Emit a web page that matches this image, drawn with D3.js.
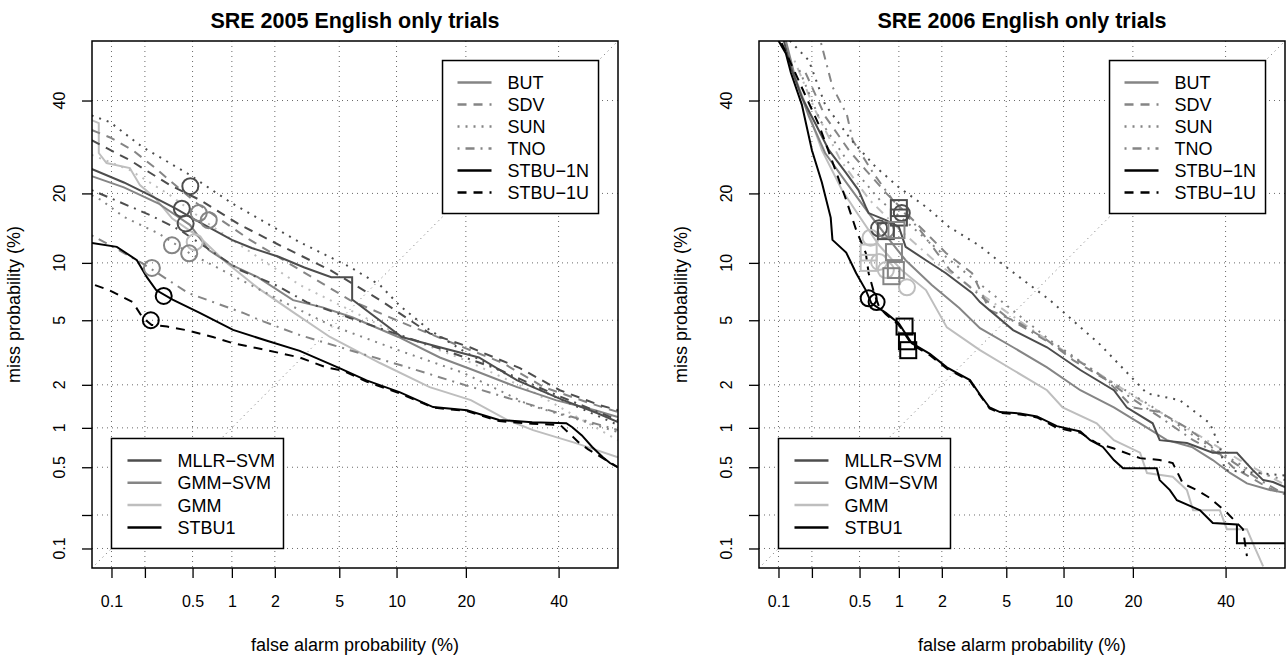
<!DOCTYPE html>
<html>
<head>
<meta charset="utf-8">
<script src="https://d3js.org/d3.v7.min.js"></script>
<title>DET curves - SRE 2005 / 2006</title>
<style>
body { margin: 0; background: #fff; }
svg { display: block; font-family: "Liberation Sans", Arial, Helvetica, sans-serif; }
</style>
</head>
<body>
<svg width="1287" height="656"></svg>
<script>

// tick marks on both probit axes (percent)
const ticks = [0.1, 0.2, 0.5, 1, 2, 5, 10, 20, 40];
const tickLabels = ["0.1", "", "0.5", "1", "2", "5", "10", "20", "40"];

const systems = ["BUT", "SDV", "SUN", "TNO", "STBU\u22121N", "STBU\u22121U"];
const subsystems = ["MLLR\u2212SVM", "GMM\u2212SVM", "GMM", "STBU1"];

// ---- SRE 2005 curves, [false alarm %, miss %]
const sre05_sun_gmm = [[0.065,27.5],[0.147,24.4],[0.327,19.7],[0.684,14.9],[1.585,10.5],[2.91,7.75],[5.74,5.7],[10.4,4.1],[19.9,2.89],[33.2,1.84],[54.9,0.81]];
const sre05_but_gmm = [[0.065,35.3],[0.076,34.6],[0.076,27.9],[0.09,25.8],[0.147,24.8],[0.181,21.5],[0.245,19.2],[0.34,15.9],[0.572,13.1],[0.9,10.1],[1.53,7.5],[2.63,5.55],[4.42,4.0],[8.28,2.77],[14.2,1.93],[20.9,1.575],[28.2,1.14],[33.9,0.963],[44.3,0.77],[54.9,0.6]];
const sre05_sdv_gmmsvm = [[0.065,33],[0.097,31.3],[0.156,28.5],[0.24,25],[0.38,21.1],[0.54,18.3],[1.35,12.8],[2.91,9.23],[5.74,6.46],[10.4,4.9],[17.8,3.67],[27.2,2.77],[36.4,1.93],[47.8,1.5],[54.9,1.3]];
const sre05_but_gmmsvm = [[0.065,23.2],[0.13,21.1],[0.26,18.3],[0.476,14.9],[0.67,11.5],[1.0,9.75],[1.53,8.5],[2.63,6.46],[4.0,5.9],[5.9,5.2],[10.2,4.0],[15.7,3.0],[21.3,2.5],[30.3,1.93],[39.3,1.575],[49.1,1.34],[54.9,1.2]];
const sre05_tno_gmmsvm = [[0.065,13.4],[0.097,12.1],[0.19,9.95],[0.22,9.45],[0.46,7.05],[1.22,5.48],[1.58,5.01],[2.91,4.1],[5.74,3.33],[10.4,2.69],[19.9,1.99],[29.8,1.575],[40,1.28],[54.9,0.963]];
const sre05_sun_gmmsvm = [[0.065,19.7],[0.08,18.85],[0.13,16.1],[0.26,13.7],[0.476,11.1],[1.0,8.7],[2.16,6.46],[4.42,4.7],[10.2,3.33],[19.5,2.4],[33.2,1.45],[45.3,1.14],[54.9,0.93]];
const sre05_sdv_mllr = [[0.065,30.7],[0.147,26.4],[0.327,21.5],[0.572,18.85],[1.145,14.9],[2.16,12.1],[4.42,9.23],[8.28,6.46],[14.2,4.2],[20.7,3.47],[30.9,2.57],[40.3,1.84],[50.4,1.45],[54.9,1.34]];
const sre05_tno_mllr = [[0.065,20.6],[0.221,16.4],[0.395,14.15],[0.684,11.5],[1.145,9.23],[2.03,7.75],[3.2,6.3],[5.74,5.15],[10.4,4.1],[17.3,3.24],[26.6,2.5],[37.9,1.78],[54.9,1.14]];
const sre05_sun_mllr = [[0.065,36.4],[0.097,34.8],[0.19,29.2],[0.45,23.8],[1.0,18.3],[2.9,12.5],[5.74,9.55],[8.28,7.75],[10.4,6.0],[14.2,4.39],[19.9,3.24],[29.8,2.2],[40,1.62],[54.9,1.05]];
const sre05_but_mllr = [[0.065,24.6],[0.13,22],[0.22,19.7],[0.36,17.5],[0.59,15.1],[1.0,12.8],[1.39,11.75],[2.12,10.7],[3.1,9.5],[4.5,8.5],[5.9,8.5],[5.9,6.5],[10.6,4.0],[15.7,3.47],[22.4,3.0],[30.3,2.14],[41,1.58],[49.6,1.28],[54.9,1.1]];
const sre05_stbu1u = [[0.07,7.75],[0.095,7.3],[0.156,6.3],[0.19,5.2],[0.229,4.7],[0.31,4.6],[0.45,4.38],[0.72,4.0],[1.02,3.67],[1.77,3.33],[2.9,3.0],[4.2,2.6],[5.24,2.48],[7.05,2.1],[10.4,1.75],[14.7,1.4],[20.2,1.32],[26.4,1.12],[33.7,1.07],[40.4,1.05],[45,0.78],[47.4,0.69],[54.9,0.5]];
const sre05_stbu1n = [[0.065,12.4],[0.112,11.9],[0.17,10.3],[0.208,8.5],[0.25,7.3],[0.344,6.5],[0.57,5.5],[1.02,4.4],[1.77,3.8],[2.9,3.3],[5.05,2.56],[7.05,2.14],[10.4,1.78],[14.7,1.41],[20.2,1.34],[26.4,1.14],[33.7,1.1],[41.9,1.08],[43.4,1.01],[45.8,0.88],[48.4,0.72],[51.1,0.6],[52.9,0.54],[54.9,0.5]];

// operating points [fa %, miss %, subsystem]
const sre05_circles = [[0.48,21.3,0],[0.41,17.4,0],[0.44,15.1,0],[0.56,16.7,1],[0.67,15.6,1],[0.34,12.1,1],[0.52,12.5,2],[0.47,11.1,1],[0.23,9.45,1],[0.29,6.8,3],[0.225,5.0,3]];
const sre05_squares = [];

// ---- SRE 2006 curves
const sre06_tno_gmm = [[0.14,50],[0.213,37.7],[0.35,26.4],[0.6,18.85],[1.02,14.15],[1.93,9.75],[4.0,6.46],[7.62,4.1],[13.3,2.57],[21.3,1.575],[31.6,0.963],[43.5,0.57],[54.9,0.36]];
const sre06_but_gmm = [[0.124,50],[0.176,39],[0.244,28.5],[0.36,20.6],[0.49,16.4],[0.71,12.1],[1.05,9.2],[1.56,7.3],[2.16,4.55],[3.5,3.33],[5.46,2.5],[8.28,1.84],[9.9,1.4],[14.2,1.08],[16.8,0.81],[21.3,0.65],[22.6,0.45],[27.8,0.42],[30.9,0.326],[32.3,0.22],[38.6,0.22],[40.3,0.15],[45.3,0.15],[46.8,0.112],[49.4,0.068]];
const sre06_sdv_gmmsvm = [[0.176,46.9],[0.26,36.2],[0.41,28.5],[0.56,24.4],[0.8,20.1],[2.13,11.15],[3.13,8.9],[4.0,5.7],[5.96,4.8],[8.28,3.83],[11.1,2.89],[15.7,2.15],[20,1.4],[25.1,1.3],[30.9,1.0],[36.9,0.72],[41.8,0.5],[50.4,0.345],[53.6,0.31]];
const sre06_sun_gmmsvm = [[0.155,47.6],[0.235,35.3],[0.42,25.4],[0.72,18.85],[1.2,14.9],[2.26,10.3],[4.6,6.46],[8.56,3.83],[14.7,2.32],[23.2,1.45],[33.9,0.81],[46,0.474],[54.9,0.394]];
const sre06_tno_gmmsvm = [[0.24,54.4],[0.3,43.4],[0.395,36.6],[0.44,30.7],[0.64,23.8],[0.9,18.85],[1.42,14.15],[2.26,9.23],[3.36,7.05],[5.04,5.2],[9.28,3.47],[14.2,2.4],[19.5,1.65],[25.1,1.2],[32.3,0.81],[41.1,0.57],[48.6,0.394],[54.9,0.3]];
const sre06_but_gmmsvm = [[0.117,55],[0.144,45.1],[0.188,36.2],[0.26,27.9],[0.39,22.0],[0.59,16.7],[0.8,13.4],[1.12,10.3],[1.71,7.75],[2.6,5.85],[3.5,4.5],[5.46,3.47],[8.28,2.6],[12,1.84],[16.8,1.4],[21.3,1.08],[26.6,0.81],[32,0.72],[36.9,0.57],[41.1,0.45],[45.3,0.37],[51.1,0.326],[54.9,0.31]];
const sre06_sun_mllr = [[0.127,55],[0.188,50],[0.26,39],[0.43,30.7],[0.67,25.0],[1.0,21.1],[1.56,17.7],[2.23,14.6],[3.45,12.1],[5.25,9.23],[8.56,6.46],[14.7,3.6],[22.6,1.75],[29.3,1.575],[36.2,1.08],[38.6,0.72],[39.8,0.474],[54.9,0.43]];
const sre06_but_mllr = [[0.112,55],[0.13,48.3],[0.163,40.8],[0.217,34.2],[0.28,28.5],[0.39,23.8],[0.49,20.6],[0.56,17.7],[0.59,16.7],[0.8,15.6],[1.0,14.6],[1.12,11.9],[1.56,10.3],[2.13,8.9],[3.13,7.05],[3.5,6.3],[5.46,4.39],[8.28,3.47],[12.0,2.5],[16.8,1.84],[18.96,1.4],[23.7,1.08],[25.1,0.81],[30.9,0.77],[36.9,0.65],[42.8,0.65],[46.8,0.474],[49.4,0.394],[51.9,0.38],[54.9,0.345]];
const sre06_stbu1u = [[0.107,54.4],[0.188,39.4],[0.23,34.2],[0.34,22.5],[0.39,18.85],[0.47,14.15],[0.56,11.15],[0.59,8.9],[0.65,7.05],[0.71,5.95],[0.8,5.4],[1.0,4.7],[1.24,3.6],[1.66,3.1],[2.16,2.55],[3.04,2.12],[3.5,1.7],[4.0,1.38],[4.6,1.28],[5.96,1.25],[7.35,1.19],[9.28,1.0],[12,0.92],[14.2,0.77],[16.8,0.7],[21.3,0.59],[25.1,0.57],[27.8,0.54],[30,0.37],[33.2,0.326],[36.2,0.28],[40.3,0.21],[44.3,0.15],[45.3,0.085]];
const sre06_stbu1n = [[0.1,55],[0.117,51.8],[0.13,46.9],[0.163,39],[0.2,28.5],[0.244,22],[0.29,16],[0.3,12.8],[0.39,11.2],[0.47,8.9],[0.56,7.3],[0.62,6.2],[0.8,5.5],[1.0,4.8],[1.24,3.67],[1.66,3.16],[2.16,2.6],[3.04,2.15],[3.5,1.72],[4.0,1.4],[4.6,1.3],[5.96,1.27],[7.35,1.21],[9.28,1.03],[12,0.94],[13.3,0.81],[15.1,0.72],[16.8,0.57],[18.3,0.49],[24.5,0.49],[25.1,0.394],[27.2,0.326],[28.7,0.268],[33.9,0.22],[36.9,0.17],[42.8,0.165],[42.8,0.112],[54.9,0.112]];

const sre06_circles = [[1.05,16.7,0],[0.71,14.4,0],[0.8,14.15,1],[0.61,13.1,2],[0.71,10.1,2],[0.8,9.23,2],[1.145,7.55,2],[0.59,6.6,3],[0.68,6.3,3]];
const sre06_squares = [[1.0,17.5,0],[1.0,16.0,0],[0.8,14.0,0],[0.96,14.15,1],[0.92,11.25,1],[0.59,11.2,2],[0.59,10.0,2],[0.95,9.23,1],[0.88,8.6,1],[1.1,4.6,3],[1.145,3.77,3],[1.17,3.33,3]];

// curve tables: [points, system index, subsystem index]
const sre05Curves = [
  [sre05_sun_gmm, 2, 2], [sre05_but_gmm, 0, 2],
  [sre05_sdv_gmmsvm, 1, 1], [sre05_but_gmmsvm, 0, 1], [sre05_tno_gmmsvm, 3, 1], [sre05_sun_gmmsvm, 2, 1],
  [sre05_sdv_mllr, 1, 0], [sre05_tno_mllr, 3, 0], [sre05_sun_mllr, 2, 0], [sre05_but_mllr, 0, 0],
  [sre05_stbu1u, 5, 3], [sre05_stbu1n, 4, 3]
];
const sre06Curves = [
  [sre06_tno_gmm, 3, 2], [sre06_but_gmm, 0, 2],
  [sre06_sdv_gmmsvm, 1, 1], [sre06_sun_gmmsvm, 2, 1], [sre06_tno_gmmsvm, 3, 1], [sre06_but_gmmsvm, 0, 1],
  [sre06_sun_mllr, 2, 0], [sre06_but_mllr, 0, 0],
  [sre06_stbu1u, 5, 3], [sre06_stbu1n, 4, 3]
];

const subColor = ["#4d4d4d", "#858585", "#bebebe", "#000000"];
const sysDash = [null, "9,7", "2,6", "2,6,9,6", null, "9,7"];
const sysColor = ["#858585", "#858585", "#858585", "#858585", "#000000", "#000000"];

// inverse normal cdf (Acklam)
function probit(p) {
  const a = [-39.69683028665376, 220.9460984245205, -275.9285104469687, 138.3577518672690, -30.66479806614716, 2.506628277459239];
  const b = [-54.47609879822406, 161.5858368580409, -155.6989798598866, 66.80131188771972, -13.28068155288572];
  const c = [-0.007784894002430293, -0.3223964580411365, -2.400758277161838, -2.549671010180558, 4.374664141464968, 2.938163982698783];
  const d = [0.007784695709041462, 0.3224671290700398, 2.445134137142996, 3.754408661907416];
  const plow = 0.02425;
  let q, r;
  if (p < plow) {
    q = Math.sqrt(-2 * Math.log(p));
    return (((((c[0]*q+c[1])*q+c[2])*q+c[3])*q+c[4])*q+c[5]) / ((((d[0]*q+d[1])*q+d[2])*q+d[3])*q+1);
  } else if (p <= 1 - plow) {
    q = p - 0.5; r = q * q;
    return (((((a[0]*r+a[1])*r+a[2])*r+a[3])*r+a[4])*r+a[5])*q / (((((b[0]*r+b[1])*r+b[2])*r+b[3])*r+b[4])*r+1);
  }
  q = Math.sqrt(-2 * Math.log(1 - p));
  return -(((((c[0]*q+c[1])*q+c[2])*q+c[3])*q+c[4])*q+c[5]) / ((((d[0]*q+d[1])*q+d[2])*q+d[3])*q+1);
}

const svg = d3.select("svg");
const lo = probit(0.001), hi = probit(0.5);
const ext = (hi - lo) * 0.04;
const dom = [lo - ext, hi + ext];

function drawPanel(left, title, curves, circles, squares, id) {
  const width = 526, top = 41, bottom = 568;
  const x = d3.scaleLinear().domain(dom).range([left, left + width]);
  const y = d3.scaleLinear().domain(dom).range([bottom, top]);
  const px = p => x(probit(p / 100));
  const py = p => y(probit(p / 100));
  const g = svg.append("g");

  g.append("clipPath").attr("id", "clip" + id)
    .append("rect").attr("x", left).attr("y", top).attr("width", width).attr("height", bottom - top);

  // grid
  const grid = g.append("g").attr("stroke", "#6a6a6a").attr("stroke-width", 1).attr("stroke-dasharray", "1,4");
  ticks.forEach(t => {
    grid.append("line").attr("x1", px(t)).attr("x2", px(t)).attr("y1", top).attr("y2", bottom);
    grid.append("line").attr("y1", py(t)).attr("y2", py(t)).attr("x1", left).attr("x2", left + width);
  });
  grid.append("line").attr("x1", left).attr("y1", bottom).attr("x2", left + width).attr("y2", top);

  // curves
  const line = d3.line().x(d => px(d[0])).y(d => py(d[1]));
  const cg = g.append("g").attr("clip-path", "url(#clip" + id + ")");
  curves.forEach(c => {
    cg.append("path").attr("d", line(c[0]))
      .attr("fill", "none")
      .attr("stroke", subColor[c[2]])
      .attr("stroke-width", 2)
      .attr("stroke-dasharray", sysDash[c[1]]);
  });
  circles.forEach(c => {
    cg.append("circle").attr("cx", px(c[0])).attr("cy", py(c[1])).attr("r", 8)
      .attr("fill", "none").attr("stroke", subColor[c[2]]).attr("stroke-width", 2);
  });
  squares.forEach(s => {
    cg.append("rect").attr("x", px(s[0]) - 8).attr("y", py(s[1]) - 8).attr("width", 16).attr("height", 16)
      .attr("fill", "none").attr("stroke", subColor[s[2]]).attr("stroke-width", 2);
  });

  // axes
  const tv = ticks.map(t => probit(t / 100));
  const xAxis = d3.axisBottom(x).tickValues(tv)
    .tickFormat((d, i) => tickLabels[i]).tickSize(10).tickPadding(18);
  const ax = g.append("g").attr("transform", "translate(0," + bottom + ")").call(xAxis);
  const yAxis = d3.axisLeft(y).tickValues(tv).tickFormat("").tickSize(10);
  const ay = g.append("g").attr("transform", "translate(" + left + ",0)").call(yAxis);
  [ax, ay].forEach(a => {
    a.select(".domain").remove();
    a.selectAll("line").attr("stroke", "#000").attr("stroke-width", 1.3);
  });
  ax.selectAll("text").attr("font-size", 16).attr("fill", "#000")
    .attr("font-family", "Liberation Sans, Arial, sans-serif");

  // y tick labels, parallel to the axis
  g.append("g").selectAll("text").data(tv).join("text")
    .attr("transform", (d, i) => "translate(" + (left - 27) + "," + y(d) + ") rotate(-90)")
    .attr("text-anchor", "middle")
    .attr("font-size", 16)
    .text((d, i) => tickLabels[i]);

  g.append("rect").attr("x", left).attr("y", top).attr("width", width).attr("height", bottom - top)
    .attr("fill", "none").attr("stroke", "#000").attr("stroke-width", 1.5);

  // titles
  g.append("text").attr("x", left + width / 2).attr("y", 28).attr("text-anchor", "middle")
    .attr("font-size", 21.5).attr("font-weight", "bold").text(title);
  g.append("text").attr("x", left + width / 2).attr("y", 651).attr("text-anchor", "middle")
    .attr("font-size", 18).text("false alarm probability (%)");
  g.append("text").attr("transform", "translate(" + (left - 72) + "," + ((top + bottom) / 2) + ") rotate(-90)")
    .attr("text-anchor", "middle").attr("font-size", 18).text("miss probability (%)");

  // system legend, top right corner at (50%, 50%)
  const lw = 156, lh = 153;
  const lx = px(50) - lw, ly = py(50);
  const leg = g.append("g");
  leg.append("rect").attr("x", lx).attr("y", ly).attr("width", lw).attr("height", lh)
    .attr("fill", "#fff").attr("stroke", "#000").attr("stroke-width", 1.5);
  systems.forEach((s, i) => {
    const yy = ly + 22 + i * 22;
    leg.append("line").attr("x1", lx + 15).attr("x2", lx + 49).attr("y1", yy).attr("y2", yy)
      .attr("stroke", sysColor[i]).attr("stroke-width", 2.5).attr("stroke-dasharray", sysDash[i]);
    leg.append("text").attr("x", lx + 65).attr("y", yy + 6.5).attr("font-size", 18).text(s);
  });

  // subsystem legend, bottom left corner at (0.1%, 0.1%)
  const bw = 172, bh = 110;
  const bx = px(0.1), by = py(0.1) - bh;
  const leg2 = g.append("g");
  leg2.append("rect").attr("x", bx).attr("y", by).attr("width", bw).attr("height", bh)
    .attr("fill", "#fff").attr("stroke", "#000").attr("stroke-width", 1.5);
  subsystems.forEach((s, i) => {
    const yy = by + 22 + i * 22.3;
    leg2.append("line").attr("x1", bx + 16).attr("x2", bx + 50).attr("y1", yy).attr("y2", yy)
      .attr("stroke", subColor[i]).attr("stroke-width", 2.5);
    leg2.append("text").attr("x", bx + 66).attr("y", yy + 6.5).attr("font-size", 18).text(s);
  });
}

drawPanel(92, "SRE 2005 English only trials", sre05Curves, sre05_circles, sre05_squares, 1);
drawPanel(759, "SRE 2006 English only trials", sre06Curves, sre06_circles, sre06_squares, 2);

</script>
</body>
</html>
